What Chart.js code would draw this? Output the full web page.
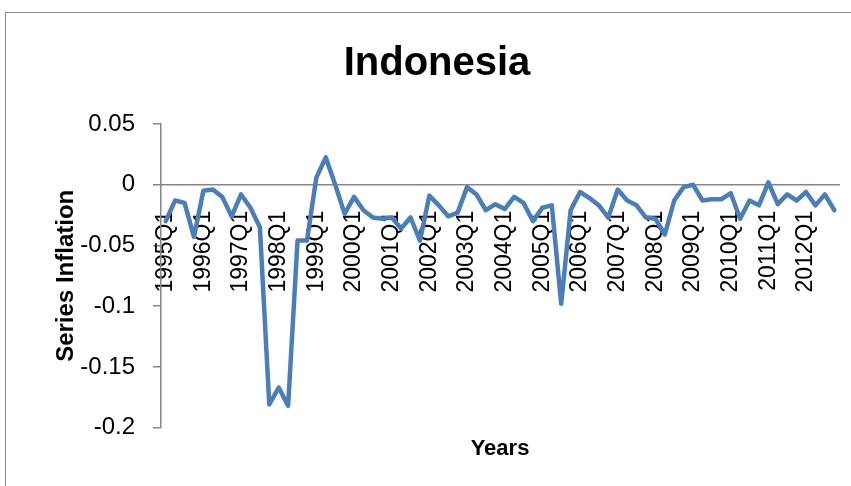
<!DOCTYPE html>
<html>
<head>
<meta charset="utf-8">
<script src="https://cdn.jsdelivr.net/npm/chart.js@4"></script>
<style>
  html, body { margin: 0; padding: 0; background: #fff; overflow: hidden; }
  #frame { position: absolute; left: 5px; top: 12px; width: 900px; height: 600px;
           border-left: 1px solid #8c8c8c; border-top: 1px solid #8c8c8c; }
  #myChart { position: absolute; left: 0; top: 0; }
</style>
</head>
<body>
<div id="frame"></div>
<canvas id="myChart" width="851" height="486"></canvas>
<script>
// quarterly categories 1995Q1 .. 2012Q4
const years = [1995, 1996, 1997, 1998, 1999, 2000, 2001, 2002, 2003,
               2004, 2005, 2006, 2007, 2008, 2009, 2010, 2011, 2012];
let quarters = [];
for (let i = 0; i < years.length; i++) {
  for (let q = 1; q <= 4; q++) {
    quarters.push(years[i] + "Q" + q);
  }
}

// inflation series
const inflation = [
  -0.030, -0.013, -0.015, -0.043,   // 1995
  -0.005, -0.004, -0.010, -0.026,   // 1996
  -0.008, -0.019, -0.035, -0.181,   // 1997
  -0.167, -0.182, -0.046, -0.046,   // 1998
   0.006,  0.0225, 0.000, -0.024,   // 1999
  -0.010, -0.021, -0.027, -0.028,   // 2000
  -0.027, -0.036, -0.027, -0.046,   // 2001
  -0.009, -0.017, -0.026, -0.023,   // 2002
  -0.002, -0.008, -0.021, -0.016,   // 2003
  -0.020, -0.010, -0.015, -0.030,   // 2004
  -0.019, -0.017, -0.098, -0.021,   // 2005
  -0.006, -0.011, -0.017, -0.027,   // 2006
  -0.004, -0.013, -0.017, -0.027,   // 2007
  -0.028, -0.041, -0.013, -0.002,   // 2008
   0.000, -0.013, -0.012, -0.012,   // 2009
  -0.007, -0.028, -0.013, -0.017,   // 2010
   0.002, -0.016, -0.008, -0.013,   // 2011
  -0.006, -0.017, -0.008, -0.021    // 2012
];

const yTicks = [0.05, 0, -0.05, -0.1, -0.15, -0.2];

const axisGray = "#868686";

Chart.defaults.font.family = "'Liberation Sans', Arial, sans-serif";
Chart.defaults.color = "#000";

new Chart("myChart", {
  type: "line",
  data: {
    labels: quarters,
    datasets: [
      {
        label: "Series Inflation",
        data: inflation,
        borderColor: "#4a7ebb",
        borderWidth: 4.5,
        pointRadius: 0,
        tension: 0,
        borderJoinStyle: "round",
        borderCapStyle: "round",
        fill: false,
      },
    ],
  },
  options: {
    responsive: false,
    animation: false,
    layout: { padding: { top: 12, left: 35, right: 12, bottom: 0 } },
    plugins: {
      legend: { display: false },
      tooltip: { enabled: false },
      title: {
        display: true,
        text: "Indonesia",
        color: "#000",
        font: { size: 40, weight: "bold" },
        padding: { top: 28, bottom: 36 },
      },
    },
    scales: {
      x: {
        type: "category",
        offset: true,
        position: { y: 0 },
        grid: { display: false },
        border: { display: true, color: axisGray, width: 1.5 },
        ticks: {
          autoSkip: false,
          minRotation: 90,
          maxRotation: 90,
          padding: 18,
          font: { size: 23 },
          callback: (v, i) => (i % 4 === 0 ? quarters[i] : ""),
        },
        afterFit: (s) => {
          s.height = 0;
          s.paddingLeft = 0;
          s.paddingRight = 0;
        },
      },
      x2: {
        type: "category",
        labels: quarters,
        position: "bottom",
        grid: { display: false },
        border: { display: false },
        ticks: { display: false },
        title: {
          display: true,
          text: "Years",
          font: { size: 22, weight: "bold" },
          padding: { top: 0, bottom: 24 },
        },
      },
      y: {
        min: -0.2,
        max: 0.05,
        afterBuildTicks: (s) => {
          s.ticks = yTicks.map((v) => ({ value: v }));
        },
        ticks: {
          padding: 18,
          font: { size: 24 },
          callback: (v) => String(v),
        },
        grid: {
          display: true,
          drawOnChartArea: false,
          drawTicks: true,
          tickLength: 8,
          color: axisGray,
          lineWidth: 1.5,
        },
        border: { display: true, color: axisGray, width: 1.5 },
        title: {
          display: true,
          text: "Series Inflation",
          font: { size: 24, weight: "bold" },
          padding: { top: 17, bottom: 0 },
        },
        afterFit: (s) => {
          s.width = 126;
        },
      },
    },
  },
});
</script>
</body>
</html>
